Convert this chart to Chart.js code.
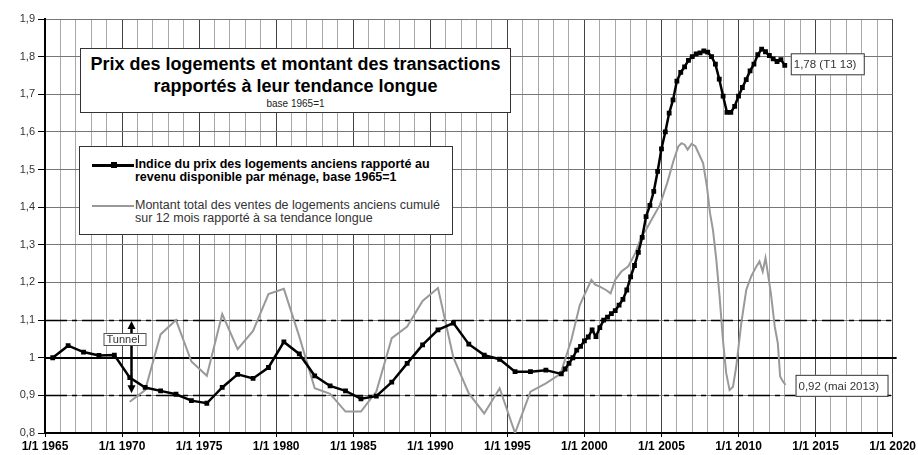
<!DOCTYPE html>
<html>
<head>
<meta charset="utf-8">
<script src="https://cdn.jsdelivr.net/npm/chart.js@4"></script>
<style>
  body { margin: 0; background: #fff; }
  #wrap { position: relative; width: 918px; height: 455px; font-family: "Liberation Sans", Arial, sans-serif; }
  .box { position: absolute; background: #fff; border: 1px solid #333; box-sizing: border-box; }
  #titre { left: 80px; top: 48px; width: 431px; height: 65px; text-align: center; }
  #titre .l1 { font-weight: bold; font-size: 18px; line-height: 22px; margin-top: 4px; color: #000; white-space: nowrap; }
  #titre .l3 { font-size: 10px; line-height: 14px; color: #222; }
  #legende { left: 79px; top: 146px; width: 374px; height: 89px; }
  .item { position: absolute; left: 55px; font-size: 12.5px; line-height: 13px; white-space: nowrap; }
  .ech { position: absolute; left: 12px; width: 42px; }
</style>
</head>
<body>
<div id="wrap">
  <canvas id="myChart" width="918" height="455"></canvas>
  <div class="box" id="titre">
    <div class="l1">Prix des logements et montant des transactions<br>rapportés à leur tendance longue</div>
    <div class="l3">base 1965=1</div>
  </div>
  <div class="box" id="legende">
    <div class="ech" style="top:17px;height:3px;background:#000;"></div>
    <div class="ech" style="top:15px;left:31px;width:6px;height:6px;background:#000;"></div>
    <div class="item" style="top:11px;font-weight:bold;color:#000;">Indice du prix des logements anciens rapporté au<br>revenu disponible par ménage, base 1965=1</div>
    <div class="ech" style="top:58px;height:2px;background:#999;"></div>
    <div class="item" style="top:52px;color:#333;">Montant total des ventes de logements anciens cumulé<br>sur 12 mois rapporté à sa tendance longue</div>
  </div>
</div>
<script>
// Indice du prix des logements anciens / revenu par ménage (annuel puis trimestriel)
let prixAnnees = [1965.5, 1966.5, 1967.5, 1968.5, 1969.5, 1970.5, 1971.5, 1972.5, 1973.5, 1974.5,
  1975.5, 1976.5, 1977.5, 1978.5, 1979.5, 1980.5, 1981.5, 1982.5, 1983.5, 1984.5,
  1985.5, 1986.5, 1987.5, 1988.5, 1989.5, 1990.5, 1991.5, 1992.5, 1993.5, 1994.5,
  1995.5, 1996.5, 1997.5, 1998.5,
  1998.75, 1999, 1999.25, 1999.5, 1999.75, 2000, 2000.25, 2000.5, 2000.75, 2001,
  2001.25, 2001.5, 2001.75, 2002, 2002.25, 2002.5, 2002.75, 2003, 2003.25, 2003.5,
  2003.75, 2004, 2004.25, 2004.5, 2004.75, 2005, 2005.25, 2005.5, 2005.75, 2006,
  2006.25, 2006.5, 2006.75, 2007, 2007.25, 2007.5, 2007.75, 2008, 2008.25, 2008.5,
  2008.75, 2009, 2009.25, 2009.5, 2009.75, 2010, 2010.25, 2010.5, 2010.75, 2011,
  2011.25, 2011.5, 2011.75, 2012, 2012.25, 2012.5, 2012.75, 2013];
let prixValeurs = [1.000, 1.032, 1.015, 1.006, 1.007, 0.947, 0.921, 0.912, 0.903, 0.886,
  0.879, 0.921, 0.956, 0.945, 0.974, 1.042, 1.010, 0.952, 0.925, 0.912,
  0.891, 0.898, 0.935, 0.985, 1.034, 1.074, 1.092, 1.036, 1.007, 0.996,
  0.963, 0.963, 0.967, 0.957,
  0.970, 0.985, 1.000, 1.020, 1.030, 1.045, 1.055, 1.074, 1.056, 1.080,
  1.100, 1.108, 1.117, 1.125, 1.140, 1.155, 1.180, 1.215, 1.245, 1.280,
  1.320, 1.375, 1.405, 1.442, 1.495, 1.555, 1.600, 1.650, 1.685, 1.735,
  1.758, 1.773, 1.790, 1.800, 1.807, 1.810, 1.815, 1.812, 1.800, 1.780,
  1.740, 1.695, 1.652, 1.652, 1.668, 1.695, 1.718, 1.739, 1.762, 1.780,
  1.805, 1.820, 1.813, 1.803, 1.794, 1.787, 1.792, 1.777];

// Montant des ventes cumulé sur 12 mois / tendance longue
let ventesAnnees = [1970.5, 1971.5, 1972.5, 1973.5, 1974.5, 1975.5, 1976.5, 1977.5, 1978.5, 1979.5,
  1980.5, 1981.5, 1982.5, 1983.5, 1984.5, 1985.5, 1986.5, 1987.5, 1988.5, 1989.5,
  1990.5, 1991.5, 1992.5, 1993.5, 1994.5, 1995.5, 1996.5, 1997.5, 1998.45,
  1999.15, 1999.7, 2000.1, 2000.45, 2000.7, 2001.0, 2001.4, 2001.7, 2002.0, 2002.4,
  2002.85, 2003.3, 2003.7, 2004.0, 2004.4, 2004.9, 2005.37, 2005.8, 2006.1, 2006.3,
  2006.5, 2006.7, 2006.95, 2007.2, 2007.4, 2007.7, 2007.95, 2008.15, 2008.34, 2008.56,
  2008.77, 2008.99, 2009.2, 2009.42, 2009.64, 2009.85, 2010.18, 2010.5, 2010.82, 2011.15,
  2011.36, 2011.57, 2011.75, 2011.9, 2012.1, 2012.35, 2012.55, 2012.7, 2012.88, 2013.05];
let ventesValeurs = [0.883, 0.914, 1.062, 1.100, 0.990, 0.952, 1.116, 1.023, 1.071, 1.169,
  1.183, 1.056, 0.919, 0.904, 0.857, 0.857, 0.910, 1.052, 1.083, 1.151,
  1.185, 1.000, 0.905, 0.852, 0.919, 0.800, 0.910, 0.932, 0.957,
  1.047, 1.140, 1.176, 1.207, 1.194, 1.189, 1.180, 1.171, 1.207, 1.229,
  1.243, 1.278, 1.322, 1.340, 1.370, 1.406, 1.464, 1.526, 1.562, 1.570,
  1.566, 1.553, 1.568, 1.562, 1.544, 1.517, 1.455, 1.384, 1.340, 1.260,
  1.163, 1.047, 0.959, 0.914, 0.923, 0.976, 1.092, 1.180, 1.216, 1.242,
  1.256, 1.229, 1.265, 1.225, 1.171, 1.083, 1.038, 0.950, 0.937, 0.928];

let tunnelHaut = 1.1;
let tunnelBas = 0.9;
let niveauBase = 1;
let tunnelAnnee = 1970.6;
let etiquettePrix = "1,78 (T1 13)";
let etiquetteVentes = "0,92 (mai 2013)";

function points(annees, valeurs) {
  return annees.map((a, i) => ({ x: a, y: valeurs[i] }));
}

// Fond blanc, lignes du tunnel et étiquettes
const decor = {
  id: 'decor',
  beforeDraw(chart) {
    const c = chart.ctx;
    c.save();
    c.fillStyle = '#fff';
    c.fillRect(0, 0, chart.width, chart.height);
    c.restore();
  },
  beforeDatasetsDraw(chart) {
    const c = chart.ctx, ys = chart.scales.y, a = chart.chartArea;
    c.save();
    c.strokeStyle = '#000';
    c.lineWidth = 1.6;
    c.setLineDash([22, 5, 5, 5]);
    [tunnelHaut, tunnelBas].forEach(v => {
      const y = Math.round(ys.getPixelForValue(v)) + 0.5;
      c.beginPath(); c.moveTo(a.left, y); c.lineTo(a.right, y); c.stroke();
    });
    c.setLineDash([]);
    c.lineWidth = 2;
    const y1 = Math.round(ys.getPixelForValue(niveauBase));
    c.beginPath(); c.moveTo(a.left, y1); c.lineTo(a.right + 4, y1); c.stroke();
    c.restore();
  },
  afterDatasetsDraw(chart) {
    const c = chart.ctx, xs = chart.scales.x, ys = chart.scales.y;
    c.save();
    c.font = '11.5px "Liberation Sans", Arial, sans-serif';
    c.textBaseline = 'middle';
    function etiquette(txt, x, y, w) {
      c.fillStyle = '#fff';
      c.fillRect(x, y - 11, w, 22);
      c.strokeStyle = '#333'; c.lineWidth = 1;
      c.strokeRect(x + 0.5, y - 10.5, w, 21);
      c.fillStyle = '#333';
      c.fillText(txt, x + 3, y + 1);
    }
    const lp = prixAnnees.length - 1;
    etiquette(etiquettePrix, xs.getPixelForValue(prixAnnees[lp]) + 6, ys.getPixelForValue(prixValeurs[lp]) - 1, 73);
    const lv = ventesAnnees.length - 1;
    etiquette(etiquetteVentes, xs.getPixelForValue(ventesAnnees[lv]) + 10, ys.getPixelForValue(ventesValeurs[lv]) + 1, 92);

    // flèche du tunnel
    const ax = Math.round(xs.getPixelForValue(tunnelAnnee)) + 0.5;
    const yh = ys.getPixelForValue(tunnelHaut) + 1, yb = ys.getPixelForValue(tunnelBas) - 2;
    c.strokeStyle = '#000'; c.fillStyle = '#000'; c.lineWidth = 2.5;
    c.beginPath(); c.moveTo(ax, yh + 6); c.lineTo(ax, yb - 6); c.stroke();
    c.beginPath(); c.moveTo(ax, yh); c.lineTo(ax - 4, yh + 8); c.lineTo(ax + 4, yh + 8); c.closePath(); c.fill();
    c.beginPath(); c.moveTo(ax, yb); c.lineTo(ax - 4, yb - 8); c.lineTo(ax + 4, yb - 8); c.closePath(); c.fill();
    const ty = Math.round(ys.getPixelForValue((tunnelHaut + niveauBase) / 2));
    c.fillStyle = '#fff';
    c.fillRect(ax - 28, ty - 6, 43, 13);
    c.strokeStyle = '#555'; c.lineWidth = 1;
    c.strokeRect(ax - 28 + 0.5, ty - 6 + 0.5, 42, 12);
    c.fillStyle = '#333';
    c.font = '11px "Liberation Sans", Arial, sans-serif';
    c.fillText('Tunnel', ax - 25, ty + 1);
    c.restore();
  }
};

const ctx = document.getElementById('myChart');

const myChart = new Chart(ctx, {
  type: 'line',
  data: {
    datasets: [{
      label: 'Indice du prix des logements anciens rapporté au revenu disponible par ménage, base 1965=1',
      data: points(prixAnnees, prixValeurs),
      borderColor: '#000',
      backgroundColor: '#000',
      borderWidth: 2.5,
      pointStyle: 'rect',
      pointRadius: 3.4,
      pointBorderWidth: 0,
      tension: 0,
      order: 1
    }, {
      label: 'Montant total des ventes de logements anciens cumulé sur 12 mois rapporté à sa tendance longue',
      data: points(ventesAnnees, ventesValeurs),
      borderColor: '#999',
      backgroundColor: '#999',
      borderWidth: 2,
      pointRadius: 0,
      tension: 0,
      order: 2
    }]
  },
  options: {
    responsive: false,
    animation: false,
    layout: { padding: { top: 19, right: 25, left: 0, bottom: 0 } },
    plugins: { legend: { display: false }, tooltip: { enabled: false } },
    scales: {
      x: {
        type: 'linear',
        min: 1965,
        max: 2020,
        afterFit: s => { s.height = 22; },
        ticks: {
          stepSize: 1,
          autoSkip: false,
          maxRotation: 0,
          padding: 2,
          color: '#000',
          font: { family: '"Liberation Sans", Arial, sans-serif', size: 12, weight: 'bold' },
          callback: v => (v % 5 === 0 ? '1/1 ' + v : '')
        },
        grid: {
          color: c => (c.tick && c.tick.value % 5 === 0 ? '#444' : '#a8a8a8'),
          tickColor: c => (c.tick && c.tick.value % 5 === 0 ? '#000' : 'rgba(0,0,0,0)'),
          tickLength: 4,
          lineWidth: 1
        },
        border: { color: '#000', width: 2 }
      },
      y: {
        min: 0.8,
        max: 1.9,
        afterFit: s => { s.width = 45; },
        ticks: {
          stepSize: 0.1,
          padding: 3,
          color: '#333',
          font: { family: '"Liberation Sans", Arial, sans-serif', size: 11 },
          callback: v => (Math.abs(v - 1) < 1e-6 ? '1' : v.toFixed(1).replace('.', ','))
        },
        grid: { color: '#777', tickColor: '#000', tickLength: 7, lineWidth: 1 },
        border: { color: '#000', width: 2 }
      }
    }
  },
  plugins: [decor]
});
</script>
</body>
</html>
